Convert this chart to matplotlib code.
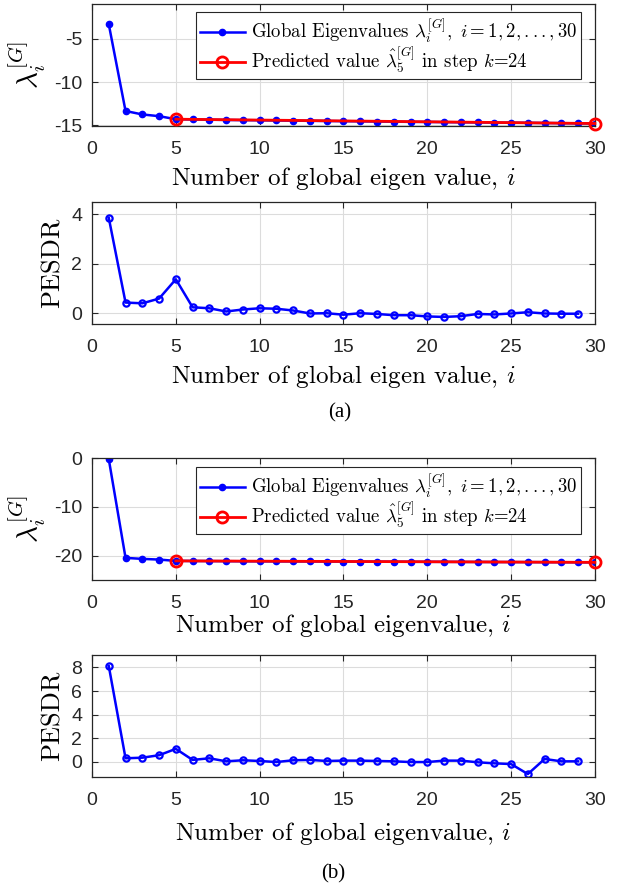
import numpy as np
import matplotlib.pyplot as plt

plt.rcParams['mathtext.fontset'] = 'cm'
plt.rcParams['axes.unicode_minus'] = False
plt.rcParams['font.family'] = 'Liberation Sans'
plt.rcParams['axes.formatter.use_mathtext'] = False

# panel (a)
idx_a = np.arange(1, 31)
eig_a = [-3.3, -13.35, -13.75, -13.95, -14.3, -14.33, -14.36, -14.39, -14.41, -14.43,
         -14.45, -14.47, -14.49, -14.51, -14.53, -14.55, -14.57, -14.59, -14.61, -14.62,
         -14.64, -14.66, -14.67, -14.69, -14.71, -14.72, -14.74, -14.76, -14.78, -14.8]
pesdr_a = [3.86, 0.44, 0.41, 0.60, 1.38, 0.25, 0.21, 0.08, 0.16, 0.21,
           0.19, 0.12, 0.0, 0.01, -0.05, 0.01, -0.02, -0.07, -0.07, -0.12,
           -0.14, -0.11, -0.02, -0.04, 0.0, 0.05, 0.0, -0.01, -0.01]

# panel (b)
idx_b = np.arange(1, 31)
eig_b = [-0.2, -20.48, -20.69, -20.83, -21.1, -21.12, -21.14, -21.16, -21.18, -21.19,
         -21.2, -21.21, -21.22, -21.23, -21.24, -21.25, -21.26, -21.27, -21.28, -21.29,
         -21.3, -21.31, -21.32, -21.33, -21.34, -21.35, -21.36, -21.37, -21.38, -21.4]
pesdr_b = [8.12, 0.29, 0.34, 0.55, 1.09, 0.15, 0.29, 0.03, 0.12, 0.06,
           -0.03, 0.12, 0.15, 0.06, 0.09, 0.09, 0.06, 0.03, -0.03, -0.03,
           0.09, 0.09, -0.05, -0.14, -0.2, -1.05, 0.23, 0.03, 0.03]

k_step = 24
pred_idx = [5, 30]

lab_eig = r'Global Eigenvalues $\lambda_i^{[G]},\ i=1,2,...,30$'
lab_pred = r'Predicted value $\hat{\lambda}_5^{[G]}$ in step $k$=%d' % k_step

CM = 'cmr10'
fig = plt.figure(figsize=(6.39, 8.88), dpi=100)

def style(ax, ylim, yticks, xlab, xpad):
    ax.set_xlim(0, 30)
    ax.set_ylim(*ylim)
    ax.set_xticks([0, 5, 10, 15, 20, 25, 30])
    ax.set_yticks(yticks)
    ax.grid(True, color='#dcdcdc', linewidth=0.8)
    ax.set_axisbelow(True)
    ax.tick_params(direction='in', top=True, right=True, labelsize=14,
                   colors='#262626', length=4)
    ax.tick_params(axis='x', pad=11)
    ax.tick_params(axis='y', pad=7)
    for s in ax.spines.values():
        s.set_color('#262626')
        s.set_linewidth(0.9)
    ax.set_xlabel(xlab, fontsize=18, family=CM, labelpad=xpad)

def eig_panel(rect, idx, eig, ylim, yticks, xlab, anchor, xpad):
    ax = fig.add_axes(rect)
    ax.plot(idx, eig, '-o', color='b', lw=1.8, ms=4.5, mfc='b', label=lab_eig)
    pv = [eig[i - 1] for i in pred_idx]
    ax.plot(pred_idx, pv, '-o', color='r', lw=2, ms=8, mfc='none', mew=2,
            label=lab_pred, clip_on=False, zorder=3)
    style(ax, ylim, yticks, xlab, xpad)
    ax.set_ylabel(r'$\lambda_i^{[G]}$', fontsize=21, labelpad=4)
    leg = ax.legend(loc='upper right', bbox_to_anchor=anchor, borderaxespad=0,
                    prop={'family': CM, 'size': 13.5}, fancybox=False, framealpha=1,
                    edgecolor='#262626', borderpad=0.2, handlelength=2.4,
                    handletextpad=0.3, labelspacing=0.0)
    leg.get_frame().set_linewidth(0.8)
    return ax

def pesdr_panel(rect, pesdr, ylim, yticks, xlab, xpad):
    ax = fig.add_axes(rect)
    x = np.arange(1, len(pesdr) + 1)
    ax.plot(x, pesdr, '-o', color='b', lw=1.8, ms=4.5, mfc='none', mew=1.6)
    style(ax, ylim, yticks, xlab, xpad)
    ax.set_ylabel('PESDR', fontsize=19, family=CM, labelpad=5)
    return ax

w = 0.787
l = 0.144
h = 0.137
eig_panel([l, 0.858, w, h], idx_a, eig_a, (-15.1, -1), [-15, -10, -5],
          r'Number of global eigen value, $i$', (0.972, 0.934), 5)
pesdr_panel([l, 0.635, w, h], pesdr_a, (-0.43, 4.48), [0, 2, 4],
            r'Number of global eigen value, $i$', 5)
eig_panel([l, 0.347, w, h], idx_b, eig_b, (-25, 0), [-20, -10, 0],
          r'Number of global eigenvalue, $i$', (0.972, 0.924), 0)
pesdr_panel([l, 0.125, w, h], pesdr_b, (-1.3, 9.03), [0, 2, 4, 6, 8],
            r'Number of global eigenvalue, $i$', 8)

fig.text(0.532, 1 - 413 / 888, '(a)', ha='center', va='center', fontsize=15,
         family='Liberation Serif')
fig.text(0.522, 1 - 874 / 888, '(b)', ha='center', va='center', fontsize=15,
         family='Liberation Serif')

fig.savefig('out.png', dpi=100)
